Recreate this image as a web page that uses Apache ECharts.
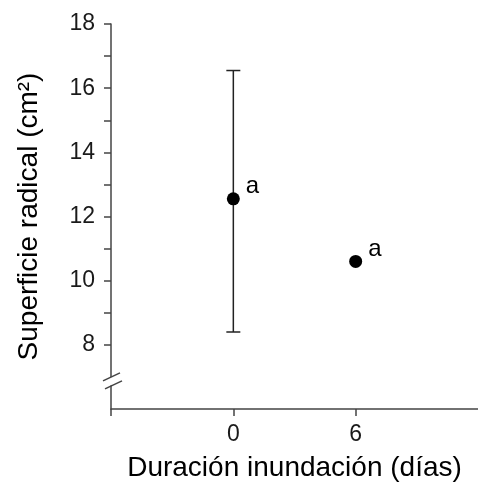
<!DOCTYPE html>
<html>
<head>
<meta charset="utf-8">
<script src="https://cdn.jsdelivr.net/npm/echarts@6/dist/echarts.min.js"></script>
<style>
  html, body { margin: 0; padding: 0; background: #fff; }
  #chart { width: 478px; height: 489px; }
</style>
</head>
<body>
<div id="chart"></div>
<script>
// datos
const days = [0, 6];
const meanArea = [12.55, 10.6];
const lowArea = [8.4, 10.6];
const highArea = [16.55, 10.6];
const letters = ['a', 'a'];
const yTicks = [8, 9, 10, 11, 12, 13, 14, 15, 16, 17, 18];
const yLabels = [8, 10, 12, 14, 16, 18];
const xTicks = [-6, 0, 6];
const xLabels = [0, 6];

const FONT = 'Liberation Sans, Arial, sans-serif';
const axisColor = '#444';

var chart = echarts.init(document.getElementById('chart'));

var errData = days.map(function (d, i) { return [d, lowArea[i], highArea[i]]; });
var pts = days.map(function (d, i) { return [d, meanArea[i]]; });

var option = {
  animation: false,
  grid: { left: 111, top: 24, right: -5, bottom: 80 },
  xAxis: {
    type: 'value',
    min: -6, max: 12, interval: 6,
    name: 'Duración inundación (días)',
    nameLocation: 'middle',
    nameGap: 45,
    nameTextStyle: { fontFamily: FONT, fontSize: 28, color: '#000' },
    axisLine: { onZero: false, lineStyle: { color: axisColor, width: 1.5 } },
    axisTick: { show: true, length: 7, customValues: xTicks, lineStyle: { color: axisColor, width: 1.5 } },
    axisLabel: { customValues: xLabels, margin: 14, fontFamily: FONT, fontSize: 23, color: '#1a1a1a' },
    splitLine: { show: false }
  },
  yAxis: {
    type: 'value',
    min: 6, max: 18, interval: 1,
    name: 'Superficie radical (cm²)',
    nameLocation: 'middle',
    nameGap: 68,
    nameTextStyle: { fontFamily: FONT, fontSize: 28, color: '#000' },
    axisLine: { show: true, onZero: false, lineStyle: { color: axisColor, width: 1.5 } },
    axisTick: { show: true, length: 7, customValues: yTicks, lineStyle: { color: axisColor, width: 1.5 } },
    axisLabel: { customValues: yLabels, margin: 16, fontFamily: FONT, fontSize: 23, color: '#1a1a1a' },
    splitLine: { show: false }
  },
  series: [
    {
      // barras de error
      type: 'custom',
      data: errData,
      encode: { x: 0, y: [1, 2] },
      renderItem: function (params, api) {
        var x = api.value(0);
        var lo = api.coord([x, api.value(1)]);
        var hi = api.coord([x, api.value(2)]);
        if (Math.abs(lo[1] - hi[1]) < 2) return null;
        var w = 7;
        var st = { stroke: '#222', lineWidth: 1.5 };
        return {
          type: 'group',
          children: [
            { type: 'line', shape: { x1: lo[0], y1: lo[1], x2: hi[0], y2: hi[1] }, style: st },
            { type: 'line', shape: { x1: lo[0] - w, y1: lo[1], x2: lo[0] + w, y2: lo[1] }, style: st },
            { type: 'line', shape: { x1: hi[0] - w, y1: hi[1], x2: hi[0] + w, y2: hi[1] }, style: st }
          ]
        };
      },
      z: 2
    },
    {
      type: 'scatter',
      data: pts,
      symbol: 'circle',
      symbolSize: 13,
      itemStyle: { color: '#000', opacity: 1 },
      label: {
        show: true,
        position: 'right',
        distance: 6,
        offset: [0, -12],
        fontFamily: FONT,
        fontSize: 24,
        color: '#000',
        formatter: function (p) { return letters[p.dataIndex]; }
      },
      z: 3
    },
    {
      // marca de corte del eje y
      type: 'custom',
      data: [[-6, 7]],
      silent: true,
      renderItem: function (params, api) {
        var c = api.coord([api.value(0), api.value(1)]);
        var st = { stroke: '#444', lineWidth: 1.5 };
        return {
          type: 'group',
          children: [
            { type: 'polygon', shape: { points: [[c[0] - 8, c[1] + 4], [c[0] + 9, c[1] - 4], [c[0] + 9, c[1] + 4], [c[0] - 8, c[1] + 12]] }, style: { fill: '#fff' } },
            { type: 'line', shape: { x1: c[0] - 8, y1: c[1] + 4, x2: c[0] + 9, y2: c[1] - 4 }, style: st },
            { type: 'line', shape: { x1: c[0] - 6, y1: c[1] + 12, x2: c[0] + 11, y2: c[1] + 4 }, style: st }
          ]
        };
      },
      clip: false,
      z: 5
    }
  ]
};

chart.setOption(option);
</script>
</body>
</html>
